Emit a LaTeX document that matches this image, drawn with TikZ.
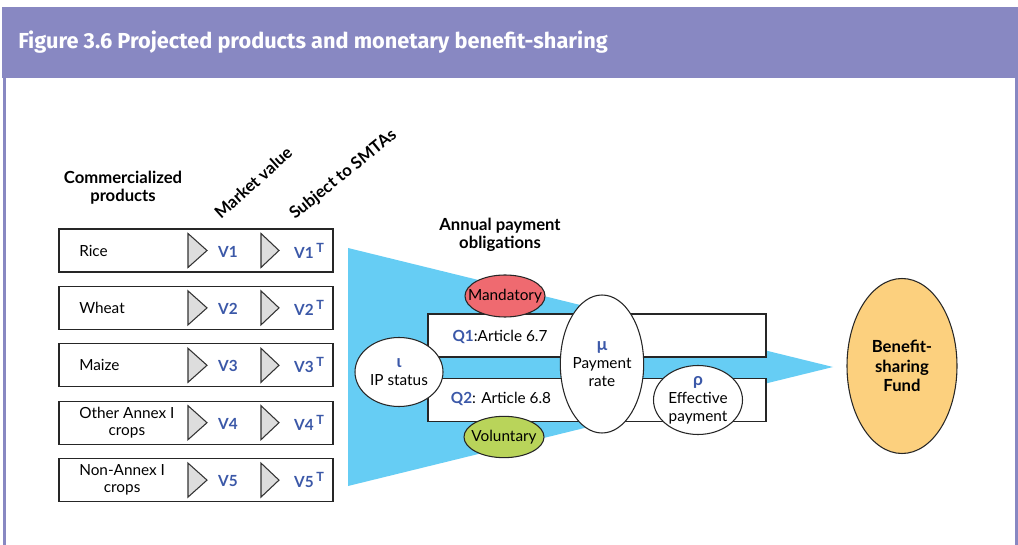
\documentclass[tikz,border=0pt]{standalone}
\usepackage{fontspec}
\setmainfont{Lato}
\newfontfamily\titlefont{Fira Sans}
\usetikzlibrary{shapes.geometric,positioning}
\definecolor{hdr}{HTML}{8888C2}
\definecolor{flow}{HTML}{66CDF4}
\definecolor{mand}{HTML}{EF6A70}
\definecolor{volu}{HTML}{B9D45A}
\definecolor{fund}{HTML}{FCD07E}
\definecolor{vblue}{HTML}{3B58A8}
\definecolor{trig}{HTML}{DDDDDD}
\tikzset{
  prodbox/.style={draw=black!85,thick,minimum width=205.5pt,minimum height=32.25pt,inner sep=0pt},
  prodtxt/.style={anchor=west,align=center,inner sep=0pt,font=\fontsize{11.5}{13}\selectfont},
  valtxt/.style={text=vblue,inner sep=0pt,font=\bfseries\fontsize{11.5}{12}\selectfont},
  arrowtri/.style={draw=black!80,fill=trig,thick,line join=miter},
  headtxt/.style={align=center,inner sep=0pt,font=\bfseries\fontsize{12.5}{13.5}\selectfont},
  qbox/.style={draw=black!85,thick,fill=white,minimum width=253.5pt,minimum height=32.25pt,inner sep=0pt},
  oval/.style={ellipse,draw=black!85,thick,align=center,inner sep=0pt,fill=white,
               font=\fontsize{11.5}{13.5}\selectfont},
}
\newcommand{\gk}[1]{{\color{vblue}\bfseries\fontsize{13}{13}\selectfont #1}}

\begin{document}
\begin{tikzpicture}[x=0.75pt,y=-0.75pt]
  \useasboundingbox[fill=white] (0,0) rectangle (1018,545);
  % frame
  \fill[hdr] (2,7) rectangle (1018,78);
  \fill[hdr] (3,78) rectangle (6,545);
  \fill[hdr] (1015,78) rectangle (1018,545);
  \node[anchor=base west,text=white,inner sep=0pt,font=\titlefont\bfseries\fontsize{16.3}{18}\selectfont]
    (title) at (18,49) {Figure 3.6 Projected products and monetary benefit-sharing};

  % column heads
  \node[headtxt] (colhead) at (123,188) {Commercialized\\products};
  \node[headtxt,rotate=42,anchor=base west] (mkt) at (221,220) {Market value};
  \node[headtxt,rotate=39,anchor=base west] (smta) at (295,220) {Subject to SMTAs};

  % products
  \foreach \i/\name in {1/Rice,2/Wheat,3/Maize,4/{Other Annex I\\crops},5/{Non-Annex I\\crops}}{
    \pgfmathsetmacro\yy{250.5+57.4*(\i-1)}
    \node[prodbox] (p\i) at (196,\yy) {};
    \node[prodtxt] (l\i) at (79,\yy) {\name};
    \filldraw[arrowtri] (188,\yy-17) -- (207,\yy) -- (188,\yy+17) -- cycle;
    \node[valtxt] (v\i) at (228,\yy+1) {V\i};
    \filldraw[arrowtri] (261,\yy-17) -- (279,\yy) -- (261,\yy+17) -- cycle;
    \node[valtxt] (vt\i) at (309,\yy) {V\i\,\raisebox{0.75ex}{\fontsize{9.5}{9.5}\selectfont T}};
  }

  % flow of payments
  \fill[flow] (348,248) -- (833,367) -- (348,486) -- cycle;
  \node[headtxt] (annual) at (500,235) {Annual payment\\obligations};

  \node[qbox] (q1) at (597,335.5) {};
  \node[qbox] (q2) at (597,400) {};
  \node[inner sep=0pt,font=\fontsize{11.5}{13}\selectfont] (q1txt) at (500,337)
    {\textcolor{vblue}{\bfseries Q1}:Article 6.7};
  \node[inner sep=0pt,font=\fontsize{11.5}{13}\selectfont] (q2txt) at (501,399)
    {\textcolor{vblue}{\bfseries Q2}: Article 6.8};

  \node[oval,fill=mand,inner xsep=-14pt,minimum width=60pt,minimum height=31.5pt] (mand) at (505,296) {Mandatory};
  \node[oval,fill=volu,inner xsep=-14pt,minimum width=60pt,minimum height=31pt] (vol) at (504,437) {Voluntary};

  \node[oval,minimum width=66pt,minimum height=51.75pt] (ip) at (399,372)
    {\gk{ι}\\IP status};
  \node[oval,minimum width=60.75pt,minimum height=103.5pt] (rate) at (602,364)
    {\gk{μ}\\Payment\\rate};
  \node[oval,minimum width=66.75pt,minimum height=51.75pt] (eff) at (698,400)
    {\gk{ρ}\\Effective\\payment};

  \node[oval,fill=fund,minimum width=82.5pt,minimum height=131.25pt,font=\bfseries\fontsize{12.5}{14.5}\selectfont]
    (fund) at (902,366) {Benefit-\\sharing\\Fund};
\end{tikzpicture}
\end{document}
